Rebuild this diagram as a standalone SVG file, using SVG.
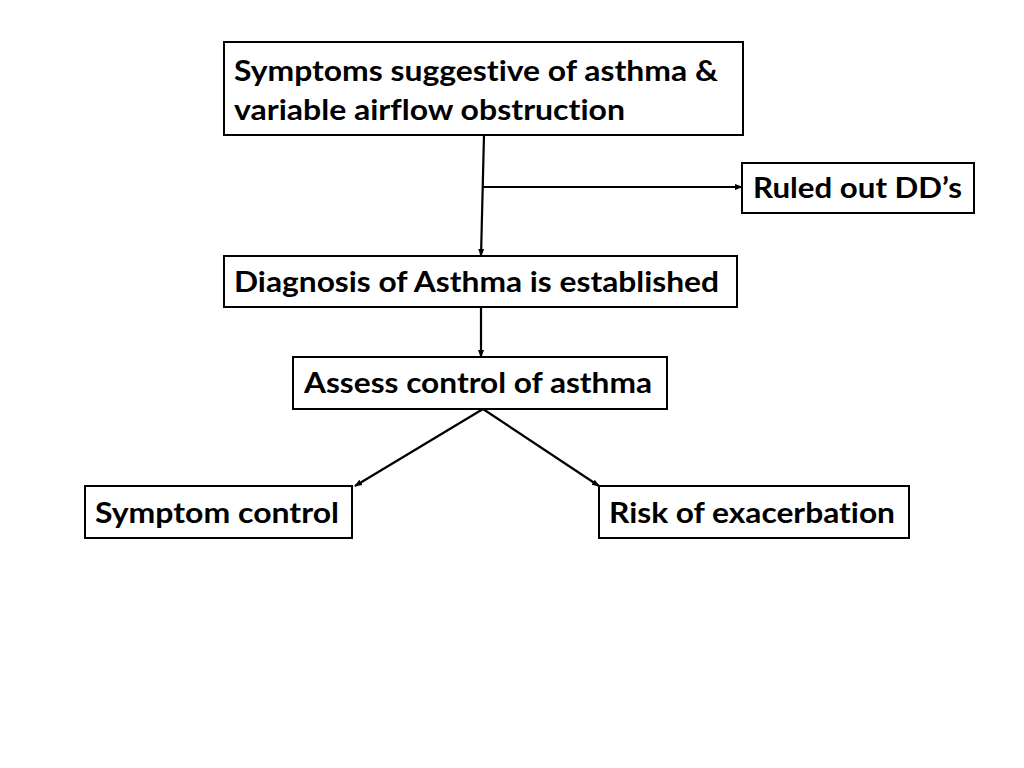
<svg xmlns="http://www.w3.org/2000/svg" width="1024" height="768" viewBox="0 0 1024 768">
<style>
.box{fill:#fff;stroke:#000;stroke-width:2}
.t{font-family:Lato,"Open Sans","Liberation Sans",sans-serif;font-weight:bold;font-size:29px;fill:#000;font-variant-ligatures:none;font-feature-settings:"liga" 0,"dlig" 0}
.c{stroke:#000;stroke-width:2.2;fill:none;marker-end:url(#ah)}
</style>
<defs>
<marker id="ah" markerWidth="8" markerHeight="8" refX="7" refY="4" orient="auto" markerUnits="userSpaceOnUse">
<path d="M0,1 L8,4 L0,7 Z" fill="#000"/>
</marker>
</defs>
<rect width="1024" height="768" fill="#fff"/>
<g id="connectors">
<path class="c" d="M484,135 L481,256"/>
<path class="c" d="M483,187 L742,187"/>
<path class="c" d="M481,307 L481,357"/>
<path class="c" d="M483,409 L355,486"/>
<path class="c" d="M483,409 L599,486"/>
</g>
<g id="n1">
<rect class="box" x="224" y="42" width="519" height="93"/>
<text class="t" x="234" y="81" textLength="484" lengthAdjust="spacingAndGlyphs">Symptoms suggestive of asthma &amp;</text>
<text class="t" x="234" y="120" textLength="391" lengthAdjust="spacingAndGlyphs">variable airflow obstruction</text>
</g>
<g id="n2">
<rect class="box" x="742" y="163" width="232" height="50"/>
<text class="t" x="753" y="198" textLength="209" lengthAdjust="spacingAndGlyphs">Ruled out DD’s</text>
</g>
<g id="n3">
<rect class="box" x="224" y="256" width="513" height="51"/>
<text class="t" x="234" y="292" textLength="485" lengthAdjust="spacingAndGlyphs">Diagnosis of Asthma is established</text>
</g>
<g id="n4">
<rect class="box" x="293" y="357" width="374" height="52"/>
<text class="t" x="304" y="393" textLength="348" lengthAdjust="spacingAndGlyphs">Assess control of asthma</text>
</g>
<g id="n5">
<rect class="box" x="85" y="486" width="267" height="52"/>
<text class="t" x="95" y="523" textLength="244" lengthAdjust="spacingAndGlyphs">Symptom control</text>
</g>
<g id="n6">
<rect class="box" x="599" y="486" width="310" height="52"/>
<text class="t" x="609" y="523" textLength="286" lengthAdjust="spacingAndGlyphs">Risk of exacerbation</text>
</g>
</svg>
